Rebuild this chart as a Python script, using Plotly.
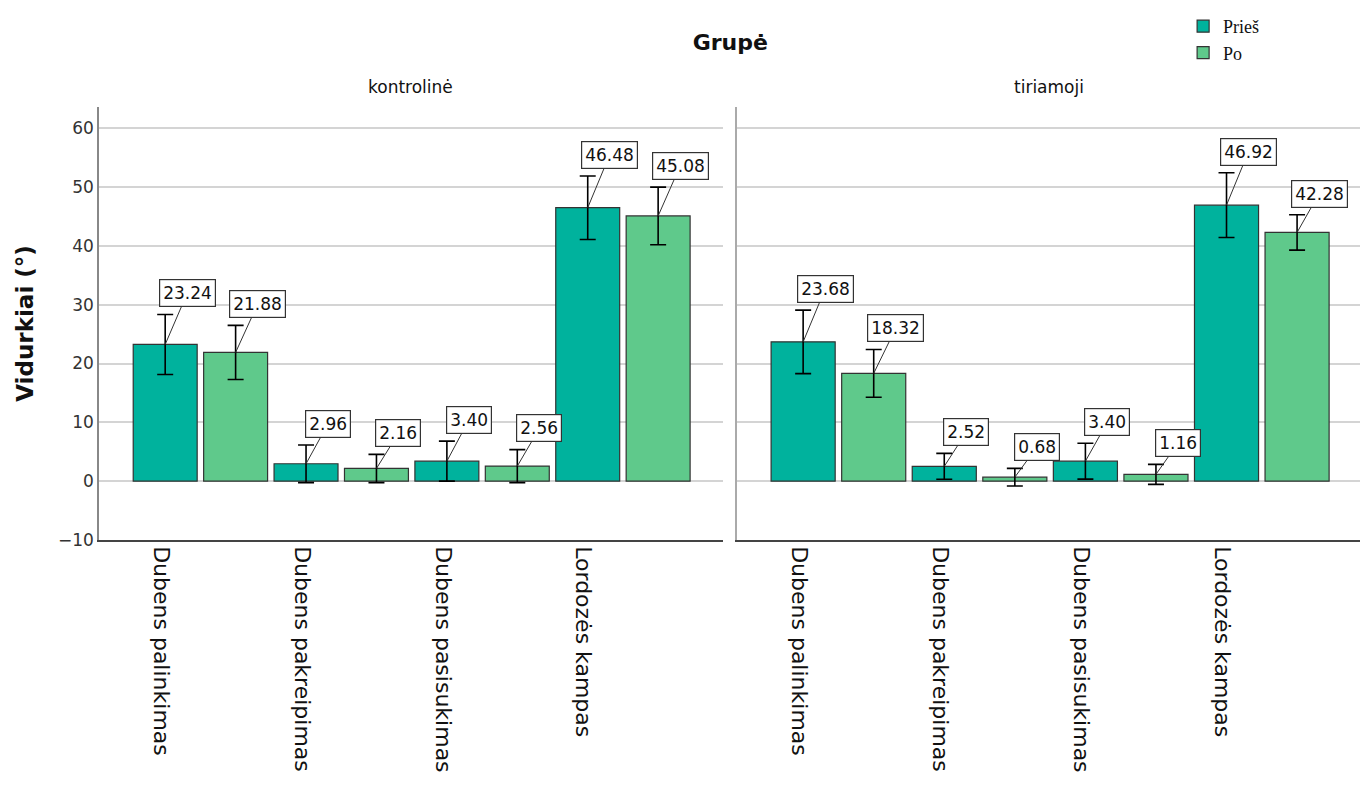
import plotly.graph_objects as go
from plotly.subplots import make_subplots

categories = ["Dubens palinkimas", "Dubens pakreipimas", "Dubens pasisukimas", "Lordozės kampas"]
groups = ["kontrolinė", "tiriamoji"]
series = ["Prieš", "Po"]

# means per group
kontroline_pries = [23.24, 2.96, 3.40, 46.48]
kontroline_po = [21.88, 2.16, 2.56, 45.08]
tiriamoji_pries = [23.68, 2.52, 3.40, 46.92]
tiriamoji_po = [18.32, 0.68, 1.16, 42.28]

# error half-widths
kontroline_pries_err = [5.1, 3.2, 3.4, 5.4]
kontroline_po_err = [4.6, 2.4, 2.8, 4.9]
tiriamoji_pries_err = [5.4, 2.2, 3.05, 5.5]
tiriamoji_po_err = [4.05, 1.5, 1.7, 3.0]

colors = {"Prieš": "rgb(0,178,157)", "Po": "rgb(95,201,139)"}

data = {
    "kontrolinė": {"Prieš": (kontroline_pries, kontroline_pries_err),
                   "Po": (kontroline_po, kontroline_po_err)},
    "tiriamoji": {"Prieš": (tiriamoji_pries, tiriamoji_pries_err),
                  "Po": (tiriamoji_po, tiriamoji_po_err)},
}

fig = make_subplots(rows=1, cols=2, shared_yaxes=False)

xs = list(range(len(categories)))
offsets = {"Prieš": -0.25, "Po": 0.25}

for col, g in enumerate(groups, start=1):
    for s in series:
        vals, errs = data[g][s]
        fig.add_trace(go.Bar(
            x=xs, y=vals, name=s, showlegend=(col == 1),
            legendgroup=s,
            marker=dict(color=colors[s], line=dict(color="#333333", width=1.2)),
            error_y=dict(type="data", array=errs, visible=True, color="black",
                         thickness=1.6, width=8),
        ), row=1, col=col)
        xref = "x" if col == 1 else "x2"
        yref = "y" if col == 1 else "y2"
        for i, (v, e) in enumerate(zip(vals, errs)):
            fig.add_annotation(
                x=i + offsets[s], y=v, xref=xref, yref=yref,
                text=f"{v:.2f}", showarrow=True, arrowhead=0, arrowwidth=1,
                arrowcolor="#333333", ax=22, ayref=yref, ay=v + e + 3.6,
                bgcolor="white", bordercolor="#333333", borderwidth=1.2,
                borderpad=3, font=dict(family="DejaVu Sans", size=17, color="#111111"),
            )

tickpos = [i - 0.28 for i in xs]
xaxis_common = dict(
    range=[-0.72, 3.71], tickmode="array", tickvals=tickpos, ticktext=categories,
    tickangle=90, showgrid=False, zeroline=False, showline=True,
    linecolor="#444444", linewidth=1.5, ticks="", automargin=False,
    tickfont=dict(family="DejaVu Sans", size=22, color="#111111"),
)
fig.update_xaxes(**xaxis_common)
fig.update_layout(
    xaxis=dict(domain=[0, 0.494]),
    xaxis2=dict(domain=[0.505, 1.0]),
)
yaxis_common = dict(
    range=[-10, 63.6], tickvals=[-10, 0, 10, 20, 30, 40, 50, 60],
    showgrid=True, gridcolor="#d4d4d4", gridwidth=1.5, zeroline=False,
    showline=True, linewidth=1.5, ticks="", automargin=False,
)
fig.update_layout(
    yaxis=dict(**yaxis_common, linecolor="#888888",
               tickfont=dict(family="DejaVu Sans", size=17, color="#333333"),
               title=dict(text="<b>Vidurkiai (°)</b>",
                          font=dict(family="DejaVu Sans", size=23, color="#111111"),
                          standoff=18)),
    yaxis2=dict(**yaxis_common, linecolor="#aaaaaa", showticklabels=False),
)

# panel titles
fig.add_annotation(text="kontrolinė", xref="x domain", yref="paper", x=0.5, y=1.046,
                   yanchor="middle", showarrow=False,
                   font=dict(family="DejaVu Sans", size=17, color="#111111"))
fig.add_annotation(text="tiriamoji", xref="x2 domain", yref="paper", x=0.5, y=1.046,
                   yanchor="middle", showarrow=False,
                   font=dict(family="DejaVu Sans", size=17, color="#111111"))

fig.update_layout(
    width=1368, height=809,
    margin=dict(l=91, r=14, t=99, b=277, autoexpand=False),
    paper_bgcolor="white", plot_bgcolor="white",
    barmode="group", bargap=0.0, bargroupgap=0.092,
    title=dict(text="<b>Grupė</b>", x=0.528, xanchor="center", y=0.958, yanchor="middle",
               font=dict(family="DejaVu Sans", size=22, color="#111111")),
    legend=dict(xref="container", yref="container", x=0.859, y=1.0,
                xanchor="left", yanchor="top",
                font=dict(family="Liberation Serif", size=18, color="#111111"),
                itemwidth=30, tracegroupgap=0, bgcolor="rgba(0,0,0,0)"),
)

fig.write_html("out.html")
